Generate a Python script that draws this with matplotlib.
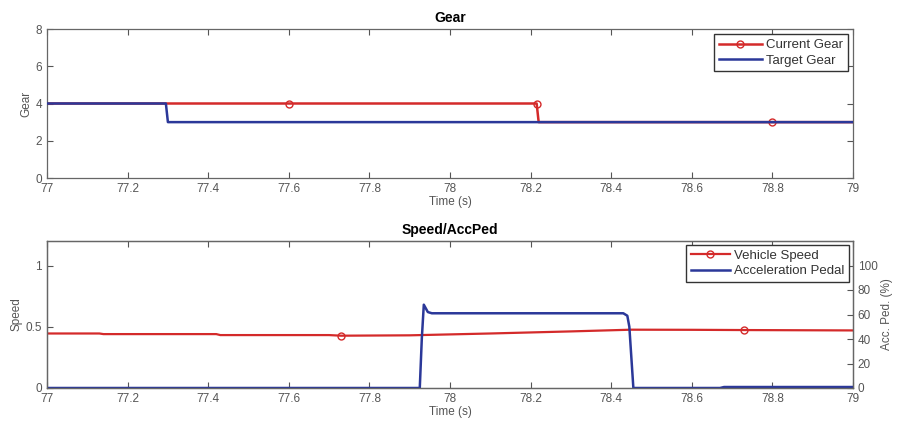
import matplotlib.pyplot as plt

plt.rcParams['font.family'] = ['Liberation Sans', 'DejaVu Sans']

# gear data
t_target = [77.0, 77.295, 77.30, 79.0]
g_target = [4, 4, 3, 3]
t_current = [77.0, 77.6, 78.215, 78.22, 78.8, 79.0]
g_current = [4, 4, 4, 3, 3, 3]
current_marks = [1, 2, 4]

# speed / pedal data
t_speed = [77.0, 77.13, 77.14, 77.42, 77.43, 77.70, 77.73, 77.90, 78.10, 78.30, 78.45, 78.60, 78.73, 79.0]
v_speed = [0.445, 0.445, 0.44, 0.44, 0.432, 0.432, 0.427, 0.43, 0.445, 0.462, 0.476, 0.475, 0.473, 0.47]
speed_marks = [6, 12]
t_pedal = [77.0, 77.925, 77.93, 77.935, 77.945, 77.955, 78.43, 78.44, 78.445, 78.455, 78.67, 78.68, 79.0]
p_pedal = [0, 0, 40, 68, 62, 61, 61, 59, 50, 0, 0, 0.8, 0.8]

xticks = [77, 77.2, 77.4, 77.6, 77.8, 78, 78.2, 78.4, 78.6, 78.8, 79]
xlabels = ['77', '77.2', '77.4', '77.6', '77.8', '78', '78.2', '78.4', '78.6', '78.8', '79']

red = '#d42a2a'
blue = '#2b3899'
gray = '#555555'

fig = plt.figure(figsize=(9.01, 4.26), dpi=100)
W, H = 901, 426


def style(ax):
    ax.tick_params(direction='in', length=4, labelsize=8.5, colors=gray, labelcolor=gray, width=0.8)
    for s in ax.spines.values():
        s.set_color('#666666')
        s.set_linewidth(0.9)


ax1 = fig.add_axes([47 / W, 1 - 178 / H, 806 / W, 149 / H])
ax1.plot(t_current, g_current, color=red, lw=1.8, marker='o', mfc='none', ms=5,
         markevery=current_marks, label='Current Gear', zorder=2)
ax1.plot(t_target, g_target, color=blue, lw=1.8, label='Target Gear', zorder=3)
ax1.set_xlim(77, 79)
ax1.set_ylim(0, 8)
ax1.set_yticks([0, 2, 4, 6, 8])
ax1.set_xticks(xticks)
ax1.set_xticklabels(xlabels)
ax1.yaxis.set_ticks_position('both')
ax1.xaxis.set_ticks_position('both')
ax1.set_title('Gear', fontsize=10, fontweight='bold', pad=5)
ax1.set_xlabel('Time (s)', fontsize=8.5, color=gray, labelpad=1)
ax1.set_ylabel('Gear', fontsize=8.5, color=gray, labelpad=2)
style(ax1)
leg = ax1.legend(loc='upper right', fontsize=9.5, fancybox=False, framealpha=1,
                 edgecolor='#333333', borderaxespad=0.4, handlelength=3.3,
                 borderpad=0.35, labelspacing=0.25, handletextpad=0.3)
for txt in leg.get_texts():
    txt.set_color('#333333')

ax2 = fig.add_axes([47 / W, 1 - 388 / H, 806 / W, 147 / H])
l1, = ax2.plot(t_speed, v_speed, color=red, lw=1.6, marker='o', mfc='none', ms=5,
               markevery=speed_marks, label='Vehicle Speed')
ax2.set_xlim(77, 79)
ax2.set_ylim(0, 1.2)
ax2.set_yticks([0, 0.5, 1])
ax2.set_yticklabels(['0', '0.5', '1'])
ax2.set_xticks(xticks)
ax2.set_xticklabels(xlabels)
ax2.xaxis.set_ticks_position('both')
ax2.set_title('Speed/AccPed', fontsize=10, fontweight='bold', pad=5)
ax2.set_xlabel('Time (s)', fontsize=8.5, color=gray, labelpad=1)
ax2.set_ylabel('Speed', fontsize=8.5, color=gray, labelpad=2)
style(ax2)

ax3 = ax2.twinx()
l2, = ax3.plot(t_pedal, p_pedal, color=blue, lw=1.8, label='Acceleration Pedal')
ax3.set_ylim(0, 120)
ax3.set_yticks([0, 20, 40, 60, 80, 100])
ax3.set_ylabel('Acc. Ped. (%)', fontsize=8.5, color=gray, labelpad=2)
style(ax3)
leg2 = ax3.legend([l1, l2], ['Vehicle Speed', 'Acceleration Pedal'], loc='upper right',
                  fontsize=9.5, fancybox=False, framealpha=1, edgecolor='#333333',
                  borderaxespad=0.3, handlelength=3.0, borderpad=0.35,
                  labelspacing=0.25, handletextpad=0.3)
for txt in leg2.get_texts():
    txt.set_color('#333333')

fig.savefig('out.png', dpi=100)
